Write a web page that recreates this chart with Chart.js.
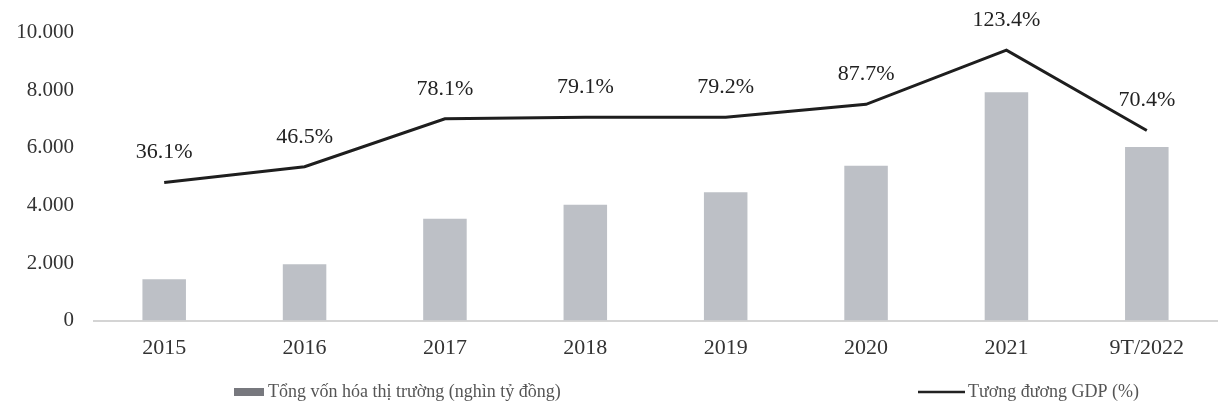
<!DOCTYPE html>
<html>
<head>
<meta charset="utf-8">
<script src="https://cdn.jsdelivr.net/npm/chart.js@4"></script>
<style>
  html, body { margin: 0; padding: 0; background: #fff; }
  #wrap { width: 1221px; height: 409px; }
</style>
</head>
<body>
<div id="wrap"><canvas id="chart" width="1221" height="409"></canvas></div>
<script>
const categories = ['2015', '2016', '2017', '2018', '2019', '2020', '2021', '9T/2022'];
const marketCap = [1440, 1955, 3540, 4020, 4460, 5380, 7930, 6030];
const gdpRatio = [36.1, 46.5, 78.1, 79.1, 79.2, 87.7, 123.4, 70.4];
const yTicks = [0, 2000, 4000, 6000, 8000, 10000];
const capLabel = 'Tổng vốn hóa thị trường (nghìn tỷ đồng)';
const gdpLabel = 'Tương đương GDP (%)';

const serif = '"Liberation Serif", "DejaVu Serif", serif';

function fmtThousands(v) {
  return String(v).replace(/\B(?=(\d{3})+(?!\d))/g, '.');
}

// percentage labels above the line points
const pointLabels = {
  id: 'pointLabels',
  afterDatasetsDraw(chart) {
    const ctx = chart.ctx;
    const meta = chart.getDatasetMeta(1);
    ctx.save();
    ctx.font = '22px ' + serif;
    ctx.fillStyle = '#222';
    ctx.textAlign = 'center';
    ctx.textBaseline = 'middle';
    meta.data.forEach((pt, i) => {
      ctx.fillText(gdpRatio[i].toFixed(1) + '%', pt.x, pt.y - 30);
    });
    ctx.restore();
  }
};

// legend at the bottom, spaced as in the source
const bottomLegend = {
  id: 'bottomLegend',
  afterDraw(chart) {
    const ctx = chart.ctx;
    const y = 392;
    ctx.save();
    ctx.font = '18px ' + serif;
    ctx.textBaseline = 'middle';
    ctx.textAlign = 'left';
    // bar item
    ctx.fillStyle = '#77787e';
    ctx.fillRect(234, y - 4, 30, 8);
    ctx.fillStyle = '#555';
    ctx.fillText(capLabel, 268, y);
    // line item
    ctx.strokeStyle = '#222';
    ctx.lineWidth = 2.5;
    ctx.beginPath();
    ctx.moveTo(918, y);
    ctx.lineTo(965, y);
    ctx.stroke();
    ctx.fillText(gdpLabel, 968, y);
    ctx.restore();
  }
};

new Chart(document.getElementById('chart').getContext('2d'), {
  data: {
    labels: categories,
    datasets: [
      {
        type: 'bar',
        label: capLabel,
        data: marketCap,
        backgroundColor: '#bdc0c6',
        barPercentage: 0.31,
        categoryPercentage: 1,
        yAxisID: 'y',
        order: 2
      },
      {
        type: 'line',
        label: gdpLabel,
        data: gdpRatio,
        borderColor: '#1e1e1e',
        borderWidth: 3,
        pointRadius: 0,
        tension: 0,
        yAxisID: 'y1',
        order: 1
      }
    ]
  },
  options: {
    responsive: false,
    animation: false,
    layout: { padding: { top: 30, right: 4, bottom: 34, left: 0 } },
    plugins: {
      legend: { display: false },
      tooltip: { enabled: false }
    },
    scales: {
      x: {
        offset: true,
        grid: { display: false, drawTicks: false },
        border: { display: true, color: '#d4d4d4', width: 2 },
        ticks: {
          padding: 14,
          color: '#333',
          font: { family: serif, size: 22 }
        }
      },
      y: {
        min: 0,
        max: 10000,
        afterBuildTicks: s => { s.ticks = yTicks.map(v => ({ value: v })); },
        afterFit: s => { s.width = 94; },
        grid: { display: false, drawTicks: false },
        border: { display: false },
        ticks: {
          padding: 20,
          color: '#333',
          font: { family: serif, size: 21 },
          callback: v => fmtThousands(v)
        }
      },
      y1: {
        display: false,
        min: -55,
        max: 135
      }
    }
  },
  plugins: [pointLabels, bottomLegend]
});
</script>
</body>
</html>
